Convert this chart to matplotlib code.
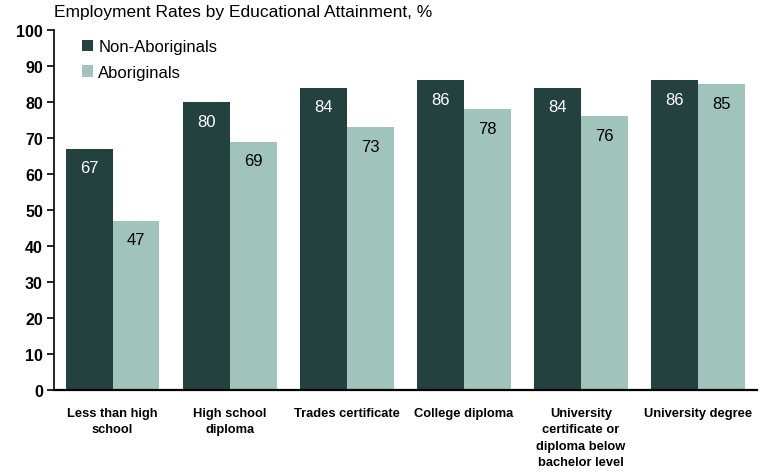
import numpy as np
import matplotlib
matplotlib.use("Agg")
import matplotlib.pyplot as plt

categories = ["Less than high\nschool", "High school\ndiploma", "Trades certificate",
              "College diploma", "University\ncertificate or\ndiploma below\nbachelor level",
              "University degree"]
non_aboriginal = [67, 80, 84, 86, 84, 86]
aboriginal = [47, 69, 73, 78, 76, 85]

dark = "#23423f"
light = "#a0c4bc"

plt.rcParams['font.family'] = ['Liberation Sans', 'DejaVu Sans']

fig = plt.figure(figsize=(7.63, 4.77), dpi=100)
ax = fig.add_axes([0.0708, 0.180, 0.921, 0.755])

x = np.arange(len(categories))
w = 0.4
ax.bar(x - w / 2, non_aboriginal, w, color=dark, label="Non-Aboriginals")
ax.bar(x + w / 2, aboriginal, w, color=light, label="Aboriginals")

for xi, v in zip(x - w / 2, non_aboriginal):
    ax.text(xi, v - 5.3, str(v), ha="center", va="center", color="white", fontsize=12)
for xi, v in zip(x + w / 2, aboriginal):
    ax.text(xi, v - 5.3, str(v), ha="center", va="center", color="black", fontsize=12)

ax.set_xlim(-0.5, len(categories) - 0.5)
ax.set_ylim(0, 100)
ax.set_yticks(range(0, 101, 10))
ax.set_xticks(x)
ax.set_xticklabels(categories, fontsize=9.3, fontweight="bold", linespacing=1.5)
ax.tick_params(axis="x", length=0, pad=12)
ax.tick_params(axis="y", direction="out", length=5, width=1.2, labelsize=11.5, pad=3)
for lab in ax.get_yticklabels():
    lab.set_fontweight("bold")

for s in ["top", "right"]:
    ax.spines[s].set_visible(False)
ax.spines["left"].set_linewidth(1.2)
ax.spines["bottom"].set_linewidth(1.6)

fig.text(0.0708, 0.974, "Employment Rates by Educational Attainment, %", fontsize=12.5,
         ha="left", va="center")

ax.legend(loc="upper left", bbox_to_anchor=(0.018, 1.016), frameon=False, fontsize=12,
          handlelength=0.7, handleheight=0.7, handletextpad=0.3, labelspacing=0.62)

fig.savefig("out.png", dpi=100)
